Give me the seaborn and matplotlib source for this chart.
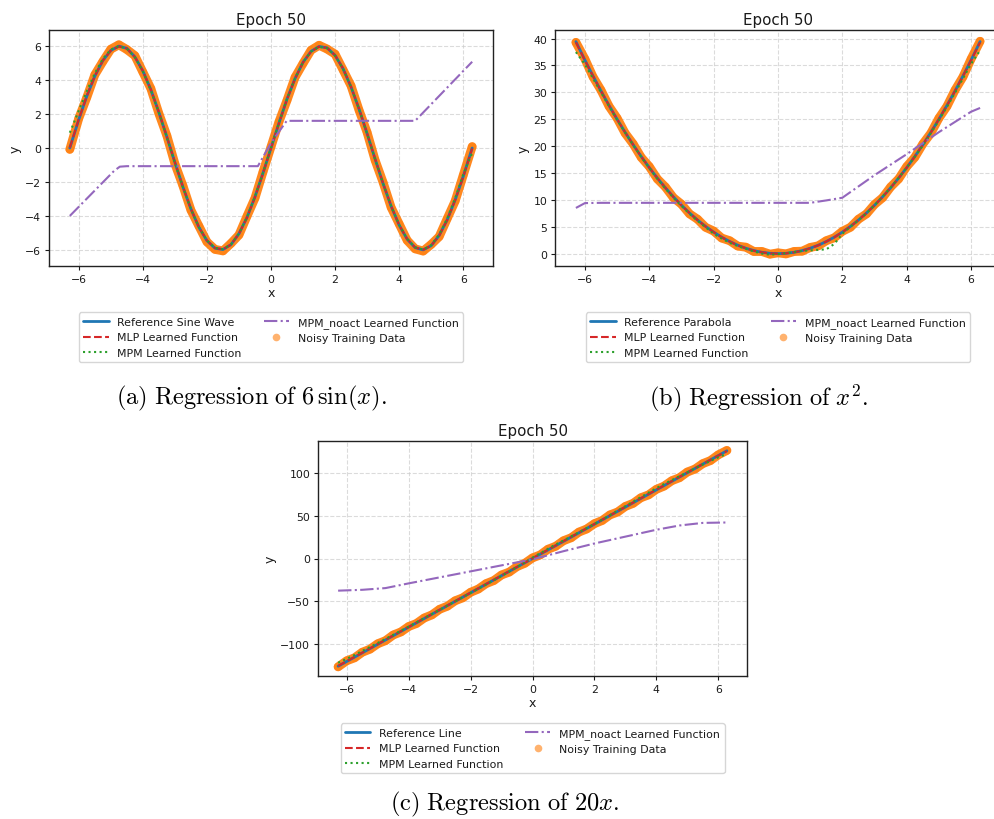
import matplotlib
matplotlib.use("Agg")
import matplotlib.pyplot as plt
import seaborn as sns
from matplotlib.lines import Line2D

# ---------------- data ----------------
X = [-6.28, -6.0, -5.75, -5.5, -5.25, -5.0, -4.75, -4.5, -4.25, -4.0, -3.75, -3.5, -3.25,
     -3.0, -2.75, -2.5, -2.25, -2.0, -1.75, -1.5, -1.25, -1.0, -0.75, -0.5, -0.25, 0.0,
     0.25, 0.5, 0.75, 1.0, 1.25, 1.5, 1.75, 2.0, 2.25, 2.5, 2.75, 3.0, 3.25, 3.5, 3.75,
     4.0, 4.25, 4.5, 4.75, 5.0, 5.25, 5.5, 5.75, 6.0, 6.28]

# (a) 6 sin(x)
sine_ref = [0.0, 1.68, 3.05, 4.23, 5.15, 5.75, 6.0, 5.87, 5.37, 4.54, 3.43, 2.1, 0.65, -0.85,
            -2.29, -3.59, -4.67, -5.46, -5.9, -5.98, -5.69, -5.05, -4.09, -2.88, -1.48, 0.0,
            1.48, 2.88, 4.09, 5.05, 5.69, 5.98, 5.9, 5.46, 4.67, 3.59, 2.29, 0.85, -0.65, -2.1,
            -3.43, -4.54, -5.37, -5.87, -6.0, -5.75, -5.15, -4.23, -3.05, -1.68, 0.0]
sine_noisy = [-0.08, 1.75, 2.98, 4.31, 5.09, 5.82, 6.08, 5.8, 5.44, 4.47, 3.5, 2.03, 0.72, -0.93,
              -2.22, -3.66, -4.6, -5.53, -5.97, -6.06, -5.62, -5.12, -4.02, -2.95, -1.41, 0.07,
              1.55, 2.81, 4.16, 4.98, 5.76, 6.05, 5.83, 5.53, 4.6, 3.66, 2.22, 0.92, -0.72, -2.03,
              -3.5, -4.47, -5.44, -5.94, -6.07, -5.68, -5.22, -4.16, -3.12, -1.61, 0.08]
sine_mlp = [0.02, 1.7, 3.06, 4.24, 5.15, 5.74, 5.98, 5.86, 5.36, 4.54, 3.44, 2.11, 0.66, -0.84,
            -2.28, -3.58, -4.66, -5.45, -5.89, -5.97, -5.69, -5.05, -4.1, -2.89, -1.49, -0.01,
            1.47, 2.87, 4.08, 5.04, 5.68, 5.97, 5.9, 5.46, 4.68, 3.6, 2.3, 0.86, -0.64, -2.09,
            -3.42, -4.53, -5.36, -5.86, -5.99, -5.75, -5.16, -4.24, -3.06, -1.7, -0.03]
sine_mpm = [0.9, 2.2, 3.35, 4.4, 5.25, 5.8, 6.0, 5.85, 5.35, 4.5, 3.4, 2.08, 0.62, -0.88,
            -2.3, -3.6, -4.66, -5.44, -5.88, -5.96, -5.68, -5.03, -4.07, -2.86, -1.46, 0.03,
            1.5, 2.9, 4.1, 5.05, 5.68, 5.96, 5.88, 5.44, 4.66, 3.58, 2.28, 0.84, -0.66, -2.1,
            -3.42, -4.52, -5.35, -5.85, -5.98, -5.72, -5.1, -4.15, -2.95, -1.55, -0.3]
sine_noact_x = [-6.28, -4.9, -4.72, -4.5, -0.41, 0.0, 0.49, 4.5, 6.28]
sine_noact_y = [-4.0, -1.35, -1.1, -1.07, -1.07, 0.3, 1.6, 1.6, 5.08]

# (b) x^2
para_ref = [39.44, 36.0, 33.06, 30.25, 27.56, 25.0, 22.56, 20.25, 18.06, 16.0, 14.06, 12.25,
            10.56, 9.0, 7.56, 6.25, 5.06, 4.0, 3.06, 2.25, 1.56, 1.0, 0.56, 0.25, 0.06, 0.0,
            0.06, 0.25, 0.56, 1.0, 1.56, 2.25, 3.06, 4.0, 5.06, 6.25, 7.56, 9.0, 10.56, 12.25,
            14.06, 16.0, 18.06, 20.25, 22.56, 25.0, 27.56, 30.25, 33.06, 36.0, 39.44]
para_noisy = [39.3, 36.2, 32.9, 30.4, 27.4, 25.2, 22.4, 20.4, 17.9, 16.2, 13.9, 12.4,
              10.4, 9.2, 7.4, 6.4, 4.9, 4.2, 2.9, 2.4, 1.4, 1.2, 0.4, 0.4, -0.1, 0.15,
              -0.05, 0.4, 0.45, 1.15, 1.45, 2.4, 2.95, 4.15, 4.9, 6.4, 7.4, 9.15, 10.4, 12.4,
              13.9, 16.2, 17.9, 20.4, 22.4, 25.2, 27.4, 30.4, 32.9, 36.2, 39.5]
para_mlp = [39.3, 35.95, 33.05, 30.25, 27.55, 25.0, 22.55, 20.25, 18.05, 16.0, 14.05, 12.25,
            10.55, 9.0, 7.55, 6.25, 5.05, 4.0, 3.05, 2.25, 1.55, 1.0, 0.55, 0.25, 0.05, 0.0,
            0.05, 0.25, 0.55, 1.0, 1.55, 2.25, 3.05, 4.0, 5.05, 6.25, 7.55, 9.0, 10.55, 12.25,
            14.05, 16.0, 18.05, 20.25, 22.55, 25.0, 27.55, 30.25, 33.05, 35.95, 39.3]
para_mpm = [37.5, 35.2, 32.6, 30.0, 27.4, 24.9, 22.5, 20.2, 18.0, 15.9, 13.9, 12.1,
            10.4, 8.9, 7.4, 6.1, 4.9, 3.7, 2.8, 2.0, 1.4, 0.9, 0.4, 0.0, -0.2, -0.1,
            0.1, 0.3, 0.5, 0.6, 0.7, 0.8, 1.8, 3.7, 5.0, 6.2, 7.5, 9.0, 10.6, 12.3,
            14.1, 16.0, 18.0, 20.1, 22.4, 24.8, 27.3, 29.9, 32.6, 35.3, 37.8]
para_noact_x = [-6.28, -6.0, -5.5, 1.0, 1.5, 2.0, 3.0, 4.0, 5.0, 6.0, 6.28]
para_noact_y = [8.5, 9.4, 9.45, 9.45, 9.9, 10.4, 14.6, 18.5, 22.6, 26.4, 27.1]

# (c) 20x
line_ref = [-125.6, -120.0, -115.0, -110.0, -105.0, -100.0, -95.0, -90.0, -85.0, -80.0, -75.0,
            -70.0, -65.0, -60.0, -55.0, -50.0, -45.0, -40.0, -35.0, -30.0, -25.0, -20.0, -15.0,
            -10.0, -5.0, 0.0, 5.0, 10.0, 15.0, 20.0, 25.0, 30.0, 35.0, 40.0, 45.0, 50.0, 55.0,
            60.0, 65.0, 70.0, 75.0, 80.0, 85.0, 90.0, 95.0, 100.0, 105.0, 110.0, 115.0, 120.0,
            125.6]
line_noisy = [-126.3, -119.2, -115.8, -109.3, -105.7, -99.4, -95.8, -89.2, -85.6, -79.3, -75.8,
              -69.4, -65.7, -59.2, -55.6, -49.3, -45.8, -39.4, -35.6, -29.3, -25.7, -19.2, -15.8,
              -9.4, -5.6, 0.7, 4.2, 10.8, 14.3, 20.7, 24.2, 30.8, 34.4, 40.6, 44.3, 50.8, 54.2,
              60.7, 64.3, 70.8, 74.2, 80.6, 84.4, 90.7, 94.2, 100.8, 104.3, 110.6, 114.2, 120.8,
              126.0]
line_mlp = [-125.2, -119.7, -114.8, -109.8, -104.8, -99.8, -94.8, -89.8, -84.8, -79.8, -74.8,
            -69.8, -64.8, -59.8, -54.8, -49.8, -44.8, -39.8, -34.8, -29.8, -24.8, -19.8, -14.8,
            -9.8, -4.8, 0.2, 5.2, 10.2, 15.2, 20.2, 25.2, 30.2, 35.2, 40.2, 45.2, 50.2, 55.2,
            60.2, 65.2, 70.2, 75.2, 80.2, 85.2, 90.2, 95.2, 100.2, 105.2, 110.2, 115.0, 120.0,
            125.2]
line_mpm = [-121.5, -117.0, -112.5, -107.8, -103.2, -98.5, -93.8, -89.0, -84.2, -79.4, -74.5,
            -69.6, -64.7, -59.8, -54.9, -50.0, -45.1, -40.2, -35.3, -30.4, -25.4, -20.4, -15.2,
            -10.0, -4.5, 1.0, 6.2, 11.3, 16.3, 21.0, 25.8, 30.6, 35.4, 40.2, 45.2, 50.5, 55.8,
            61.0, 66.3, 71.5, 76.8, 82.0, 86.8, 91.4, 96.0, 100.5, 105.0, 109.5, 113.8, 118.0,
            122.0]
line_noact_x = [-6.28, -5.5, -4.75, -4.0, -3.0, -2.0, -1.0, 0.0, 1.0, 2.0, 3.0, 4.0, 4.75, 5.5, 6.28]
line_noact_y = [-37.5, -36.5, -34.5, -29.0, -22.0, -15.0, -8.0, -1.0, 8.5, 17.5, 25.5, 33.5,
                38.5, 41.5, 42.0]

ref_labels = ["Reference Sine Wave", "Reference Parabola", "Reference Line"]
captions = [r"$\mathrm{(a)\ Regression\ of\ }6\,\sin(x)\mathrm{.}$",
            r"$\mathrm{(b)\ Regression\ of\ }x^2\mathrm{.}$",
            r"$\mathrm{(c)\ Regression\ of\ }20x\mathrm{.}$"]

# ---------------- style ----------------
sns.set_style("ticks")
plt.rcParams["font.family"] = ["DejaVu Sans"]
plt.rcParams["mathtext.fontset"] = "cm"

W, H = 995, 820
fig = plt.figure(figsize=(W / 100, H / 100), dpi=100)
fig.patch.set_facecolor("white")

BLUE, RED, GREEN, PURPLE, ORANGE = "#1f77b4", "#d62728", "#2ca02c", "#9467bd", "#ff7f0e"
TXT = "#1a1a1a"


def px_axes(left, right, top, bottom):
    return fig.add_axes([left / W, 1 - bottom / H, (right - left) / W, (bottom - top) / H])


panels = [
    dict(box=(49, 493, 31, 267), ref=sine_ref, noisy=sine_noisy, mlp=sine_mlp, mpm=sine_mpm,
         nx=sine_noact_x, ny=sine_noact_y, ylim=(-6.95, 6.95), yticks=[-6, -4, -2, 0, 2, 4, 6],
         leg_top=308, cap=(251, 398)),
    dict(box=(555, 1001, 31, 267), ref=para_ref, noisy=para_noisy, mlp=para_mlp, mpm=para_mpm,
         nx=para_noact_x, ny=para_noact_y, ylim=(-2.3, 41.6), yticks=[0, 5, 10, 15, 20, 25, 30, 35, 40],
         leg_top=308, cap=(759, 398)),
    dict(box=(318, 747, 442, 677), ref=line_ref, noisy=line_noisy, mlp=line_mlp, mpm=line_mpm,
         nx=line_noact_x, ny=line_noact_y, ylim=(-137, 137), yticks=[-100, -50, 0, 50, 100],
         leg_top=719, cap=(505, 804)),
]

for i, p in enumerate(panels):
    l, r, t, b = p["box"]
    ax = px_axes(l, r, t, b)
    # noisy training data (scatter + dense band)
    sns.scatterplot(x=X, y=p["noisy"], ax=ax, color=ORANGE, s=38, alpha=0.5,
                    edgecolor="none", zorder=1, legend=False)
    sns.lineplot(x=X, y=p["noisy"], ax=ax, color=ORANGE, lw=6.4, alpha=0.93,
                 solid_capstyle="round", solid_joinstyle="round", zorder=2, legend=False)
    sns.lineplot(x=X, y=p["ref"], ax=ax, color=BLUE, lw=2.0, zorder=3, legend=False)
    sns.lineplot(x=X, y=p["mlp"], ax=ax, color=RED, lw=1.5, linestyle="--", zorder=4, legend=False)
    sns.lineplot(x=X, y=p["mpm"], ax=ax, color=GREEN, lw=1.5, linestyle=":", zorder=5, legend=False)
    sns.lineplot(x=p["nx"], y=p["ny"], ax=ax, color=PURPLE, lw=1.5, linestyle="-.", zorder=6,
                 legend=False)

    ax.set_xlim(-6.93, 6.93)
    ax.set_ylim(*p["ylim"])
    ax.set_xticks([-6, -4, -2, 0, 2, 4, 6])
    ax.set_yticks(p["yticks"])
    ax.grid(True, linestyle="--", linewidth=0.8, color="#cccccc", alpha=0.7)
    ax.set_axisbelow(True)
    for s in ax.spines.values():
        s.set_visible(True)
        s.set_color("#222222")
        s.set_linewidth(1.0)
    ax.tick_params(labelsize=7.8, length=3, width=0.8, colors=TXT, pad=2.5)
    ax.set_xlabel("x", fontsize=9, labelpad=2, color=TXT)
    ax.set_ylabel("y", fontsize=9, labelpad=3, color=TXT)
    ax.set_title("Epoch 50", fontsize=10.8, pad=4, color=TXT)

    handles = [
        Line2D([], [], color=BLUE, lw=2.0),
        Line2D([], [], color=RED, lw=1.5, ls="--"),
        Line2D([], [], color=GREEN, lw=1.5, ls=":"),
        Line2D([], [], color=PURPLE, lw=1.5, ls="-."),
        Line2D([], [], color=ORANGE, marker="o", ls="none", markersize=5.5, alpha=0.6,
               markeredgewidth=0),
    ]
    labels = [ref_labels[i], "MLP Learned Function", "MPM Learned Function",
              "MPM_noact Learned Function", "Noisy Training Data"]
    cx = (l + r) / 2
    leg = fig.legend(handles, labels, loc="upper center",
                     bbox_to_anchor=(cx / W, 1 - p["leg_top"] / H),
                     ncol=2, fontsize=7.9, frameon=True, fancybox=True, edgecolor="#cccccc",
                     framealpha=0.8, handlelength=2.3, columnspacing=2.0, borderpad=0.4,
                     labelspacing=0.5)
    for txt in leg.get_texts():
        txt.set_color(TXT)

    fig.text(p["cap"][0] / W, 1 - p["cap"][1] / H, captions[i], ha="center", va="center",
             fontsize=17.6, color="black")

fig.savefig("out.png", dpi=100, facecolor="white")
